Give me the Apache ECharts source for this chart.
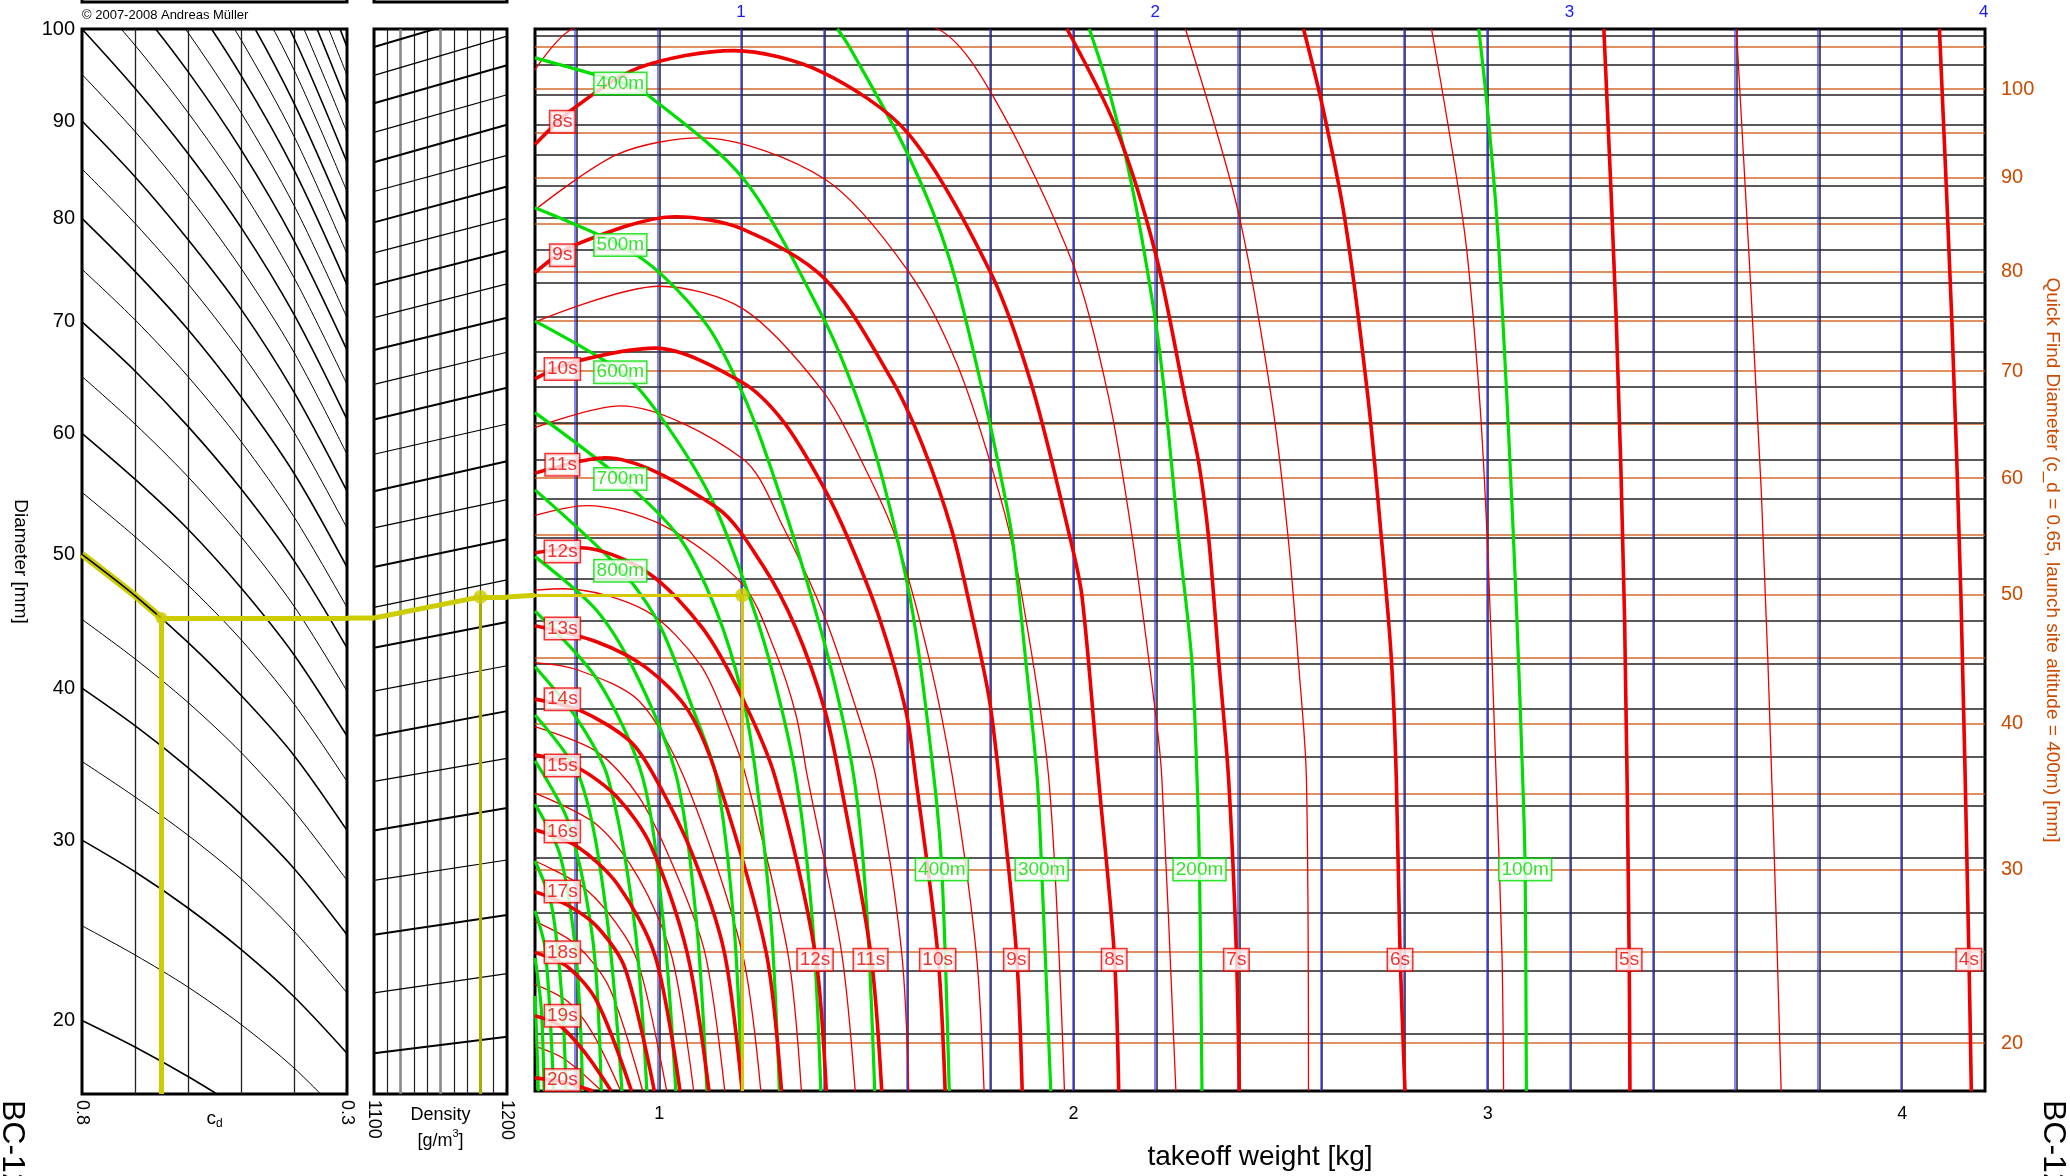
<!DOCTYPE html>
<html><head><meta charset="utf-8">
<script src="https://cdn.jsdelivr.net/npm/echarts@6/dist/echarts.min.js"></script>
<style>html,body{margin:0;padding:0;background:#fff}#c{width:2070px;height:1176px}</style>
</head><body><div id="c"></div>
<script>
const FONT = "'Liberation Sans', Arial, Helvetica, sans-serif";

// ---------------- axis ranges / ticks ----------------
const diamAxisMin = 16.5, diamAxisMax = 100;        // left "Diameter [mm]" (square-root scale)
const quickAxisMin = 17.6, quickAxisMax = 107.1;    // right "Quick Find Diameter" (square-root scale)
const diameterTicks = [20, 30, 40, 50, 60, 70, 80, 90, 100];
const quickFindTicks = [20, 30, 40, 50, 60, 70, 80, 90, 100];
const weightTicks = [1, 2, 3, 4];
const topTicks = [1, 2, 3, 4];

// ---------------- c_d panel ----------------
const cdTicks = [0.8, 0.7, 0.6, 0.5, 0.4, 0.3];
const cdGridLines = [0.7, 0.6, 0.5, 0.4];
const cdCurveStart = [20,25,30,35,40,45,50,55,60,65,70,75,80,85,90,95,100,105,110,115,120,125,130,135,140,145,150,155,160];
const cdCurveValues = [
  [20, 18.7, 17.3, 15.8, 14.1, 12.2],
  [25, 23.4, 21.7, 19.8, 17.7, 15.3],
  [30, 28.1, 26.0, 23.7, 21.2, 18.4],
  [35, 32.7, 30.3, 27.7, 24.7, 21.4],
  [40, 37.4, 34.6, 31.6, 28.3, 24.5],
  [45, 42.1, 39.0, 35.6, 31.8, 27.6],
  [50, 46.8, 43.3, 39.5, 35.4, 30.6],
  [55, 51.4, 47.6, 43.5, 38.9, 33.7],
  [60, 56.1, 52.0, 47.4, 42.4, 36.7],
  [65, 60.8, 56.3, 51.4, 46.0, 39.8],
  [70, 65.5, 60.6, 55.3, 49.5, 42.9],
  [75, 70.2, 65.0, 59.3, 53.0, 45.9],
  [80, 74.8, 69.3, 63.2, 56.6, 49.0],
  [85, 79.5, 73.6, 67.2, 60.1, 52.1],
  [90, 84.2, 77.9, 71.2, 63.6, 55.1],
  [95, 88.9, 82.3, 75.1, 67.2, 58.2],
  [100, 93.5, 86.6, 79.1, 70.7, 61.2],
  [105, 98.2, 90.9, 83.0, 74.2, 64.3],
  [110, 102.9, 95.3, 87.0, 77.8, 67.4],
  [115, 107.6, 99.6, 90.9, 81.3, 70.4],
  [120, 112.2, 103.9, 94.9, 84.9, 73.5],
  [125, 116.9, 108.3, 98.8, 88.4, 76.5],
  [130, 121.6, 112.6, 102.8, 91.9, 79.6],
  [135, 126.3, 116.9, 106.7, 95.5, 82.7],
  [140, 131.0, 121.2, 110.7, 99.0, 85.7],
  [145, 135.6, 125.6, 114.6, 102.5, 88.8],
  [150, 140.3, 129.9, 118.6, 106.1, 91.9],
  [155, 145.0, 134.2, 122.5, 109.6, 94.9],
  [160, 149.7, 138.6, 126.5, 113.1, 98.0]
];

// ---------------- density panel ----------------
const densityEnds = [1100, 1200];
const densityGridLines = [1110, 1120, 1130, 1140, 1150, 1160, 1170, 1180, 1190];
const densityLineLeft  = [18.4,21.4,24.5,27.6,30.6,33.7,36.7,39.8,42.9,45.9,49.0,52.1,55.1,58.2,61.2,64.3,67.4,70.4,73.5,76.6,79.6,82.7,85.7,88.8,91.9,94.9,98.0];
const densityLineRight = [19.2,22.4,25.6,28.8,32.0,35.2,38.4,41.6,44.8,48.0,51.2,54.4,57.6,60.8,64.0,67.2,70.4,73.6,76.8,80.0,83.2,86.4,89.6,92.8,96.0,99.2,102.4];

// ---------------- main panel grid ----------------
const mainDiamLines = [19.2,22.4,25.6,28.8,32.0,35.2,38.4,41.6,44.8,48.0,51.2,54.4,57.6,60.8,64.0,67.2,70.4,73.6,76.8,80.0,83.2,86.4,89.6,92.8,96.0,99.2];
const quickFindLines = [20,25,30,35,40,45,50,55,60,65,70,75,80,85,90,95,100,105];
const weightGridLines = [0.8,1.0,1.2,1.4,1.6,1.8,2.0,2.2,2.4,2.6,2.8,3.0,3.2,3.4,3.6,3.8,4.0];
const topGridLines = [0.6,0.8,1.0,1.2,1.4,1.6,1.8,2.0,2.2,2.4,2.6,2.8,3.0,3.2,3.4,3.6,3.8];

// ---------------- time curves [weight kg, diameter mm] ----------------
const timeThickNames = ['4s','5s','6s','7s','8s','9s','10s','11s','12s','13s','14s','15s','16s','17s','18s','19s','20s'];
const timeThickCurves = [
  [[4.09,100],[4.12,70],[4.142,46.5],[4.161,23.4],[4.167,16.5]],
  [[3.28,100],[3.31,70],[3.33,45],[3.341,23.4],[3.343,16.5]],
  [[2.555,100],[2.599,91.9],[2.655,79.8],[2.711,62.9],[2.743,51.2],[2.767,42.0],[2.779,33.8],[2.788,23.4],[2.80,16.5]],
  [[1.984,100],[2.101,89.4],[2.197,76.6],[2.27,62.9],[2.302,57.4],[2.326,51.2],[2.35,42.0],[2.374,33.8],[2.393,23.4],[2.40,16.5]],
  [[0.70,87.5],[0.79,91.2],[0.95,95.7],[1.18,97.6],[1.39,95.3],[1.60,88.7],[1.80,74.6],[1.90,64.0],[1.99,51.4],[2.02,46.7],[2.06,33.8],[2.098,23.4],[2.109,16.5]],
  [[0.70,74.6],[0.79,77.2],[1.04,80.1],[1.20,78.9],[1.40,74.0],[1.56,64.7],[1.635,58.9],[1.707,51.7],[1.756,45.0],[1.796,39.2],[1.82,33.8],[1.862,23.4],[1.876,16.5]],
  [[0.70,64.7],[0.79,66.2],[0.99,67.5],[1.20,64.4],[1.30,60.9],[1.394,55.5],[1.459,50.9],[1.531,45.0],[1.595,38.3],[1.619,33.8],[1.672,23.4],[1.69,16.5]],
  [[0.70,56.5],[0.87,57.8],[1.14,53.6],[1.25,49.0],[1.33,44.2],[1.40,38.3],[1.435,33.8],[1.51,23.4],[1.537,16.5]],
  [[0.70,50.0],[0.81,50.4],[0.97,48.5],[1.105,44.2],[1.20,39.2],[1.28,33.8],[1.376,23.4],[1.403,16.5]],
  [[0.70,44.4],[0.85,43.2],[0.97,41.3],[1.07,38.3],[1.14,33.8],[1.258,23.4],[1.295,16.5]],
  [[0.70,39.1],[0.81,38.3],[0.93,36.2],[0.99,33.8],[1.08,29.0],[1.157,23.4],[1.20,16.5]],
  [[0.70,35.3],[0.80,34.5],[0.90,32.5],[0.98,29.5],[1.067,23.4],[1.12,16.5]],
  [[0.70,30.5],[0.80,29.5],[0.90,27.2],[0.99,23.2],[1.05,16.5]],
  [[0.70,26.8],[0.78,26.0],[0.85,24.8],[0.918,22.5],[0.988,16.5]],
  [[0.70,23.4],[0.78,22.6],[0.85,20.8],[0.933,16.5]],
  [[0.70,20.1],[0.76,19.6],[0.82,18.3],[0.884,16.5]],
  [[0.70,17.1],[0.77,16.9],[0.84,16.5]]
];
const timeThinCurves = [
  [[3.60,100],[3.66,55],[3.69,30],[3.708,16.5]],
  [[2.864,100],[2.944,78.5],[2.98,62.9],[3.00,50],[3.02,33.8],[3.034,23.4],[3.038,16.5]],
  [[2.27,100],[2.398,80.5],[2.478,62.9],[2.518,51.2],[2.542,42.0],[2.562,33.8],[2.567,16.5]],
  [[0.70,95.5],[0.79,100],[1.2,106],[1.672,100],[1.806,92.6],[2.0,75.3],[2.085,63.0],[2.141,51.4],[2.197,38.3],[2.213,33.8],[2.247,16.5]],
  [[0.70,80.8],[0.90,86.5],[1.10,88.2],[1.40,83.9],[1.60,74.8],[1.72,65.9],[1.82,54.9],[1.868,48.0],[1.94,33.8],[1.978,16.5]],
  [[0.70,69.9],[1.0,73.3],[1.204,71.1],[1.397,63.5],[1.49,57.4],[1.571,51.2],[1.651,42.0],[1.708,33.8],[1.765,23.4],[1.784,16.5]],
  [[0.70,60.4],[0.905,62.3],[1.202,57.7],[1.30,52.0],[1.40,45.0],[1.48,38.0],[1.523,33.8],[1.585,23.4],[1.602,16.5]],
  [[0.70,53.0],[0.824,53.8],[1.009,52.2],[1.202,47.5],[1.28,42.5],[1.33,38.0],[1.358,33.8],[1.44,23.4],[1.473,16.5]],
  [[0.70,47.1],[0.77,47.2],[0.969,45.5],[1.10,41.5],[1.17,37.0],[1.21,33.8],[1.31,23.4],[1.343,16.5]],
  [[0.70,41.7],[0.80,41.2],[0.95,39.0],[1.06,33.8],[1.20,23.4],[1.245,16.5]],
  [[0.70,37.2],[0.85,35.5],[0.95,32.6],[1.03,28.5],[1.11,23.4],[1.158,16.5]],
  [[0.70,32.8],[0.85,30.8],[0.95,27.6],[1.03,23.2],[1.083,16.5]],
  [[0.70,28.6],[0.82,27.0],[0.92,24.2],[0.96,22.0],[1.018,16.5]],
  [[0.70,25.1],[0.80,23.8],[0.88,21.5],[0.96,16.5]],
  [[0.70,21.7],[0.78,20.8],[0.84,19.2],[0.907,16.5]],
  [[0.70,18.6],[0.77,18.0],[0.861,16.5]]
];

// ---------------- altitude curves [weight kg, diameter mm] ----------------
const altitudeNames = ['100m','200m','300m','400m','500m','600m','700m','800m','900m','1000m','1100m','1200m','1300m','1400m','1500m','1600m','1700m','1800m'];
const altitudeCurves = [
  [[2.978,100],[3.0,90.8],[3.024,78.5],[3.05,60],[3.07,45],[3.085,33],[3.09,28.1],[3.093,16.5]],
  [[2.038,100],[2.085,93.3],[2.141,83.2],[2.197,70.2],[2.221,62.9],[2.253,51.4],[2.285,42.0],[2.298,33.8],[2.304,28.1],[2.31,16.5]],
  [[1.43,100],[1.459,98.0],[1.602,86.3],[1.70,76],[1.785,62.9],[1.82,57.0],[1.852,51.2],[1.884,42.0],[1.912,33.8],[1.923,28.1],[1.945,16.5]],
  [[0.70,96.8],[0.909,94.1],[0.965,93.0],[1.204,83.9],[1.397,70.2],[1.478,62.9],[1.539,56.0],[1.611,45.5],[1.663,33.8],[1.682,28.1],[1.70,16.5]],
  [[0.70,81.0],[0.909,77.2],[1.009,74.3],[1.121,69.3],[1.20,63.5],[1.25,58.9],[1.33,50.6],[1.41,41.8],[1.47,33.8],[1.50,26.0],[1.52,16.5]],
  [[0.70,70.0],[0.909,65.3],[1.0,61.5],[1.121,54.7],[1.202,48.0],[1.266,41.8],[1.33,33.8],[1.37,25.0],[1.39,16.5]],
  [[0.70,61.7],[0.909,56.0],[1.049,51.2],[1.138,45.5],[1.20,39.4],[1.234,33.8],[1.27,25.0],[1.29,16.5]],
  [[0.70,55.1],[0.909,48.6],[1.0,44.5],[1.08,38.5],[1.138,33.8],[1.18,25.0],[1.20,16.5]],
  [[0.70,49.7],[0.85,45.5],[0.95,40.5],[1.042,33.8],[1.09,25.0],[1.115,16.5]],
  [[0.70,45.5],[0.85,40.5],[0.96,33.8],[1.01,25.0],[1.04,16.5]],
  [[0.70,41.4],[0.80,37.8],[0.876,33.8],[0.94,25.0],[0.97,16.5]],
  [[0.70,38.0],[0.808,33.8],[0.87,26.0],[0.91,16.5]],
  [[0.70,34.9],[0.78,31.0],[0.84,24.0],[0.86,16.5]],
  [[0.70,32.1],[0.76,29.0],[0.80,23.0],[0.815,16.5]],
  [[0.70,28.6],[0.74,26.0],[0.765,21.0],[0.775,16.5]],
  [[0.70,25.7],[0.725,23.5],[0.745,16.5]],
  [[0.70,23.1],[0.715,20.5],[0.722,16.5]],
  [[0.70,21.1],[0.705,18.5],[0.708,16.5]]
];

// ---------------- curve labels [text, weight kg, diameter mm] ----------------
const timeLabelsLeft = [['8s',0.766,89.9],['9s',0.766,76.3],['10s',0.766,65.6],['11s',0.766,57.2],['12s',0.766,50.1],['13s',0.766,44.2],['14s',0.766,39.1],['15s',0.766,34.6],['16s',0.766,30.4],['17s',0.766,26.8],['18s',0.766,23.4],['19s',0.766,20.1],['20s',0.766,17.0]];
const timeLabelsBottom = [['12s',1.376,23.0],['11s',1.51,23.0],['10s',1.672,23.0],['9s',1.862,23.0],['8s',2.098,23.0],['7s',2.393,23.0],['6s',2.788,23.0],['5s',3.341,23.0],['4s',4.161,23.0]];
const altLabelsLeft = [['400m',0.906,94.0],['500m',0.906,77.3],['600m',0.906,65.3],['700m',0.906,56.0],['800m',0.906,48.6]];
const altLabelsBottom = [['400m',1.682,28.1],['300m',1.923,28.1],['200m',2.304,28.1],['100m',3.09,28.1]];

// ---------------- worked example (yellow) ----------------
const exampleCdPath = [[0.8,50],[0.75,48.4],[0.7,46.8],[0.65,45.1]];
const exampleCd = 0.65, exampleDeff = 45.1;
const exampleDensity = 1180, exampleMainD = 46.7, exampleWeight = 1.2;

// =====================================================================
const sq = Math.sqrt;
const RED = '#ee0000', GREEN = '#00dd00', ORANGE = '#cc4a00', YEL = '#cccc00';
const yMin = sq(diamAxisMin), yMax = sq(diamAxisMax);

function curve(pts, xi, yi, color, width, z, smooth) {
  return {type: 'line', xAxisIndex: xi, yAxisIndex: yi, data: pts.map(p => [p[0], sq(p[1])]),
    symbol: 'none', showSymbol: false, smooth: smooth == null ? 0.3 : smooth,
    lineStyle: {color: color, width: width}, silent: true, clip: true, z: z, animation: false};
}
function segs(list, xi, yi, color, width, z, opacity) {
  return {type: 'lines', coordinateSystem: 'cartesian2d', xAxisIndex: xi, yAxisIndex: yi,
    data: list.map(c => ({coords: c})), lineStyle: {color: color, width: width, opacity: opacity == null ? 1 : opacity, curveness: 0},
    silent: true, z: z, animation: false};
}
function labelSeries(list, color, z) {
  return {type: 'scatter', xAxisIndex: 2, yAxisIndex: 2, symbolSize: 1, itemStyle: {color: 'rgba(0,0,0,0)'},
    data: list.map(l => ({name: l[0], value: [l[1], sq(l[2])]})), silent: true, z: z, animation: false,
    label: {show: true, position: 'inside', formatter: '{b}', color: color, fontSize: 19, fontFamily: FONT,
      backgroundColor: '#fff', borderColor: color, borderWidth: 1.5, padding: [2, 2, 0, 2]}};
}

const series = [];
// --- c_d panel ---
series.push(segs(cdGridLines.map(c => [[c, yMin], [c, yMax]]), 0, 0, '#222', 1.3, 1));
series.push(curve(exampleCdPath, 0, 0, YEL, 7, 2, 0));
cdCurveValues.forEach((row, i) => {
  series.push(curve(cdTicks.map((c, j) => [c, row[j]]), 0, 0, '#000', cdCurveStart[i] % 10 === 0 ? 1.6 : 1, 3, 0.3));
});
series.push(segs([[[exampleCd, sq(exampleDeff)], [0.3, sq(exampleDeff)]], [[exampleCd, sq(exampleDeff)], [exampleCd, yMin]]], 0, 0, YEL, 5, 4));
series.push({type: 'scatter', xAxisIndex: 0, yAxisIndex: 0, symbolSize: 12, itemStyle: {color: YEL},
  data: [[exampleCd, sq(exampleDeff)]], silent: true, z: 5, animation: false});

// --- density panel ---
series.push(segs(densityGridLines.map(d => [[d, yMin], [d, yMax]]), 1, 1, '#222', 1.2, 1));
series.push(segs([1120, 1150].map(d => [[d, yMin], [d, yMax]]), 1, 1, '#888', 2.5, 1));
densityLineLeft.forEach((l, i) => {
  series.push(segs([[[densityEnds[0], sq(l)], [densityEnds[1], sq(densityLineRight[i])]]], 1, 1, '#000', i % 2 === 0 ? 2 : 1.2, 3));
});
series.push(segs([[[densityEnds[0], sq(exampleDeff)], [exampleDensity, sq(exampleMainD)]], [[exampleDensity, sq(exampleMainD)], [densityEnds[1], sq(exampleMainD)]]], 1, 1, YEL, 5, 4));
series.push(segs([[[exampleDensity, sq(exampleMainD)], [exampleDensity, yMin]]], 1, 1, '#aaaa00', 3, 4));
series.push({type: 'scatter', xAxisIndex: 1, yAxisIndex: 1, symbolSize: 14, itemStyle: {color: YEL},
  data: [[exampleDensity, sq(exampleMainD)]], silent: true, z: 5, animation: false});

// --- main panel grid ---
series.push(segs(quickFindLines.map(r => [[0.7, sq(r)], [4.2, sq(r)]]), 2, 3, '#d25a14', 1.6, 1, 0.9));
series.push(segs(mainDiamLines.map(d => [[0.7, sq(d)], [4.2, sq(d)]]), 2, 2, '#222', 1.6, 1));
series.push(segs(weightGridLines.map(w => [[w, yMin], [w, yMax]]), 2, 2, '#222', 1.5, 1));
series.push({type: 'lines', coordinateSystem: 'cartesian2d', xAxisIndex: 3, yAxisIndex: 2,
  data: topGridLines.map(t => ({coords: [[t, yMin], [t, yMax]]})), lineStyle: {color: '#2f2fff', width: 1.6, opacity: 0.75},
  silent: true, z: 1, animation: false});

// --- main panel curves ---
timeThinCurves.forEach(c => series.push(curve(c, 2, 2, RED, 1.3, 3)));
altitudeCurves.forEach(c => series.push(curve(c, 2, 2, GREEN, 3.2, 4)));
timeThickCurves.forEach(c => series.push(curve(c, 2, 2, RED, 3.6, 5)));

// --- example in main panel ---
series.push(segs([[[0.7, sq(exampleMainD)], [exampleWeight, sq(exampleMainD)]], [[exampleWeight, sq(exampleMainD)], [exampleWeight, yMin]]], 2, 2, '#d8c800', 3, 6));
series.push({type: 'scatter', xAxisIndex: 2, yAxisIndex: 2, symbolSize: 14, itemStyle: {color: YEL},
  data: [[exampleWeight, sq(exampleMainD)]], silent: true, z: 7, animation: false});

// --- labels ---
series.push(labelSeries(timeLabelsLeft, RED, 20));
series.push(labelSeries(timeLabelsBottom, RED, 20));
series.push(labelSeries(altLabelsLeft, GREEN, 21));
series.push(labelSeries(altLabelsBottom, GREEN, 21));

const gridBox = {show: true, borderColor: '#000', borderWidth: 3, backgroundColor: 'rgba(0,0,0,0)'};
const noLine = {show: false};
const option = {
  animation: false,
  backgroundColor: '#fff',
  textStyle: {fontFamily: FONT},
  grid: [
    Object.assign({left: 82, top: 29, width: 265, height: 1065}, gridBox),
    Object.assign({left: 374, top: 29, width: 133, height: 1065}, gridBox),
    Object.assign({left: 535, top: 29, width: 1453, height: 1065}, gridBox)
  ],
  xAxis: [
    {gridIndex: 0, type: 'value', min: 0.3, max: 0.8, inverse: true, splitLine: noLine, axisLine: noLine, axisTick: noLine,
      axisLabel: {customValues: [0.8, 0.3], rotate: -90, margin: 6, fontSize: 18, color: '#000', formatter: v => v.toFixed(1)},
      name: '{c|c}{d|d}', nameLocation: 'middle', nameGap: 14, nameMoveOverlap: false,
      nameTextStyle: {rich: {c: {fontSize: 19, color: '#000', fontFamily: FONT}, d: {fontSize: 12, color: '#000', fontFamily: FONT, padding: [10, 0, 0, 0]}}}},
    {gridIndex: 1, type: 'value', min: 1100, max: 1200, splitLine: noLine, axisLine: noLine, axisTick: noLine,
      axisLabel: {customValues: [1100, 1200], rotate: -90, margin: 6, fontSize: 18, color: '#000', formatter: v => String(v)},
      name: 'Density\n[g/m{s|3}]', nameLocation: 'middle', nameGap: 8, nameMoveOverlap: false,
      nameTextStyle: {fontSize: 18, color: '#000', lineHeight: 26, rich: {s: {fontSize: 11, color: '#000', verticalAlign: 'top', padding: [0, 0, 8, 0]}}}},
    {gridIndex: 2, type: 'value', min: 0.7, max: 4.2, splitLine: noLine, axisLine: noLine, axisTick: noLine,
      axisLabel: {customValues: weightTicks, margin: 14, fontSize: 18, color: '#000'},
      name: 'takeoff weight [kg]', nameLocation: 'middle', nameGap: 52, nameMoveOverlap: false, nameTextStyle: {fontSize: 28, color: '#000'}},
    {gridIndex: 2, type: 'value', position: 'top', min: 0.503, max: 4.003, splitLine: noLine, axisLine: noLine, axisTick: noLine,
      axisLabel: {customValues: topTicks, margin: 8, fontSize: 17, color: '#1a1aff'}}
  ],
  yAxis: [
    {gridIndex: 0, type: 'value', min: yMin, max: yMax, splitLine: noLine, axisLine: noLine, axisTick: noLine,
      axisLabel: {customValues: diameterTicks.map(sq), formatter: v => String(Math.round(v * v)), fontSize: 20, color: '#000', margin: 7},
      name: 'Diameter [mm]', nameLocation: 'middle', nameRotate: -90, nameGap: 52, nameMoveOverlap: false, nameTextStyle: {fontSize: 19, color: '#000'}},
    {gridIndex: 1, type: 'value', min: yMin, max: yMax, splitLine: noLine, axisLine: noLine, axisTick: noLine, axisLabel: {show: false}},
    {gridIndex: 2, type: 'value', min: yMin, max: yMax, splitLine: noLine, axisLine: noLine, axisTick: noLine, axisLabel: {show: false}},
    {gridIndex: 2, type: 'value', position: 'right', min: sq(quickAxisMin), max: sq(quickAxisMax), splitLine: noLine, axisLine: noLine, axisTick: noLine,
      axisLabel: {customValues: quickFindTicks.map(sq), formatter: v => String(Math.round(v * v)), fontSize: 20, color: ORANGE, margin: 16},
      name: 'Quick Find Diameter (c_d = 0.65, launch site altitude = 400m) [mm]', nameLocation: 'middle', nameRotate: -90, nameGap: 58, nameMoveOverlap: false,
      nameTextStyle: {fontSize: 19, color: ORANGE}}
  ],
  series: series,
  graphic: [
    {type: 'text', left: 82, top: 9, style: {text: '\u00a9 2007-2008 Andreas M\u00fcller', fontSize: 13, fill: '#000', font: '13px ' + FONT}},
    {type: 'rect', shape: {x: 82, y: -60, width: 265, height: 62}, style: {fill: 'none', stroke: '#000', lineWidth: 3}},
    {type: 'rect', shape: {x: 374, y: -60, width: 133, height: 62}, style: {fill: 'none', stroke: '#000', lineWidth: 3}},
    {type: 'text', x: 12, y: 1100, rotation: -Math.PI / 2, style: {text: 'BC-12', font: '32px ' + FONT, fill: '#000', align: 'left', verticalAlign: 'middle'}},
    {type: 'text', x: 2053, y: 1100, rotation: -Math.PI / 2, style: {text: 'BC-12', font: '32px ' + FONT, fill: '#000', align: 'left', verticalAlign: 'middle'}}
  ]
};

const chart = echarts.init(document.getElementById('c'), null, {width: 2070, height: 1176});
chart.setOption(option);

// yellow connectors across the gaps between panels (positions from the library's scales)
const a1 = chart.convertToPixel({xAxisIndex: 0, yAxisIndex: 0}, [0.3, sq(exampleDeff)]);
const a2 = chart.convertToPixel({xAxisIndex: 1, yAxisIndex: 1}, [densityEnds[0], sq(exampleDeff)]);
const b1 = chart.convertToPixel({xAxisIndex: 1, yAxisIndex: 1}, [densityEnds[1], sq(exampleMainD)]);
const b2 = chart.convertToPixel({xAxisIndex: 2, yAxisIndex: 2}, [0.7, sq(exampleMainD)]);
const g = option.graphic.slice();
g.push({type: 'line', shape: {x1: a1[0], y1: a1[1], x2: a2[0], y2: a2[1]}, style: {stroke: YEL, lineWidth: 5}, z: 10});
g.push({type: 'line', shape: {x1: b1[0], y1: b1[1], x2: b2[0], y2: b2[1]}, style: {stroke: YEL, lineWidth: 5}, z: 10});
chart.setOption({graphic: g}, {replaceMerge: ['graphic']});
</script>
</body></html>
